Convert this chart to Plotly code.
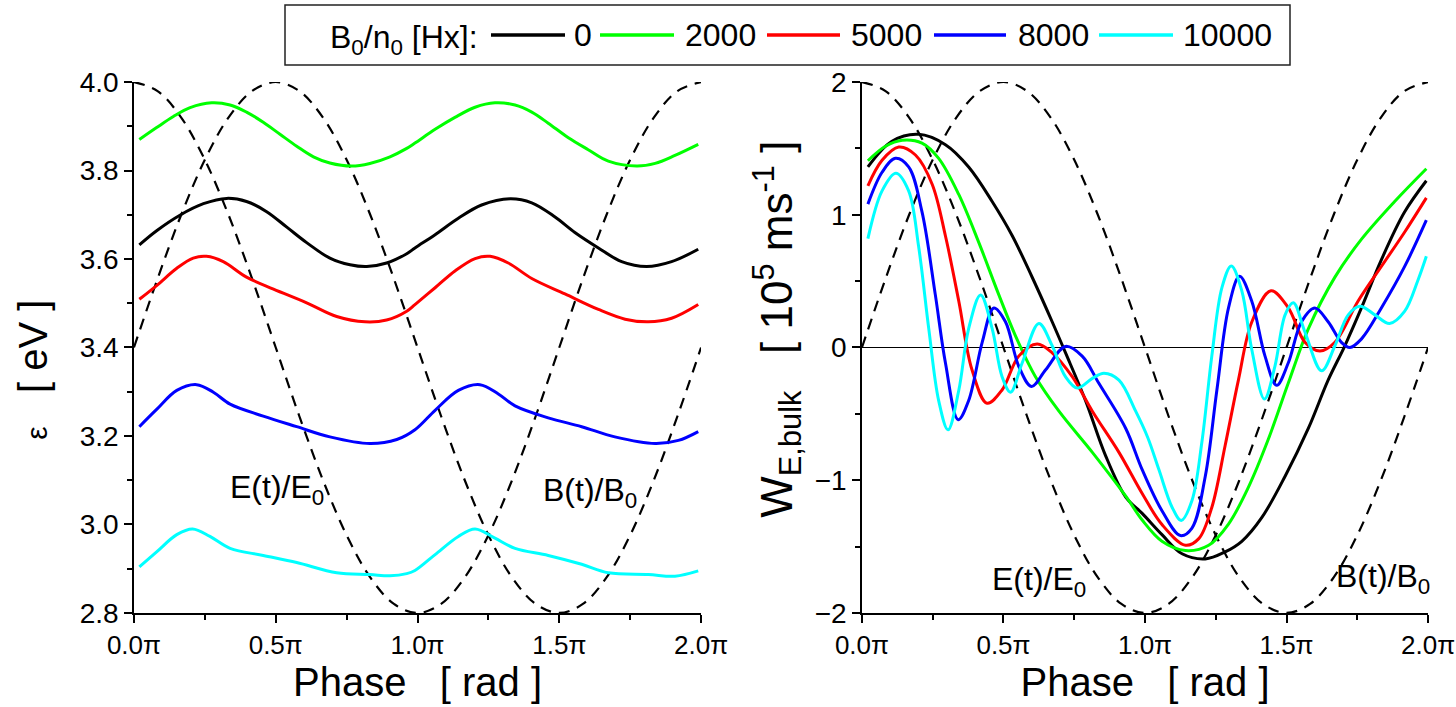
import plotly.graph_objects as go

# ---------------- data (phase in units of pi) ----------------
series_labels = ["0", "2000", "5000", "8000", "10000"]
series_colors = ["#000000", "#00ff00", "#ff0000", "#0000ff", "#00ffff"]

# Left panel: mean energy eps [eV]
eps_0_phase = [0.019, 0.080, 0.162, 0.245, 0.327, 0.397, 0.468, 0.539, 0.609, 0.691, 0.762, 0.821, 0.891, 0.962,
               0.991, 1.062, 1.144, 1.226, 1.326, 1.403, 1.485, 1.555, 1.638, 1.720, 1.808, 1.896, 1.990]
eps_0 = [3.632, 3.664, 3.699, 3.725, 3.737, 3.730, 3.707, 3.672, 3.637, 3.602, 3.587, 3.583, 3.591, 3.612,
         3.625, 3.655, 3.692, 3.722, 3.736, 3.727, 3.695, 3.660, 3.625, 3.594, 3.583, 3.594, 3.622]

eps_2000_phase = [0.019, 0.080, 0.139, 0.198, 0.274, 0.339, 0.397, 0.456, 0.515, 0.574, 0.633, 0.691, 0.768, 0.832,
                  0.903, 0.962, 0.991, 1.062, 1.132, 1.203, 1.273, 1.344, 1.403, 1.461, 1.532, 1.602, 1.673, 1.773,
                  1.838, 1.908, 1.990]
eps_2000 = [3.870, 3.897, 3.922, 3.942, 3.953, 3.948, 3.932, 3.909, 3.882, 3.855, 3.831, 3.817, 3.810, 3.816,
            3.831, 3.850, 3.862, 3.893, 3.920, 3.943, 3.953, 3.948, 3.932, 3.907, 3.874, 3.847, 3.821, 3.810,
            3.816, 3.834, 3.859]

eps_5000_phase = [0.019, 0.080, 0.151, 0.209, 0.256, 0.315, 0.397, 0.492, 0.609, 0.715, 0.815, 0.891, 0.962,
                  0.991, 1.062, 1.132, 1.203, 1.256, 1.320, 1.403, 1.520, 1.638, 1.732, 1.814, 1.896, 1.990]
eps_5000 = [3.509, 3.540, 3.579, 3.602, 3.606, 3.594, 3.559, 3.532, 3.501, 3.470, 3.458, 3.462, 3.482,
            3.497, 3.535, 3.573, 3.601, 3.606, 3.591, 3.556, 3.521, 3.486, 3.464, 3.458, 3.466, 3.497]

eps_8000_phase = [0.019, 0.080, 0.151, 0.221, 0.280, 0.339, 0.456, 0.574, 0.691, 0.832, 0.927,
                  0.991, 1.062, 1.144, 1.220, 1.285, 1.344, 1.461, 1.579, 1.696, 1.838, 1.920, 1.990]
eps_8000 = [3.221, 3.260, 3.303, 3.316, 3.299, 3.272, 3.245, 3.221, 3.198, 3.183, 3.192,
            3.214, 3.258, 3.303, 3.316, 3.295, 3.268, 3.241, 3.221, 3.198, 3.183, 3.190, 3.210]

eps_10000_phase = [0.019, 0.080, 0.151, 0.207, 0.268, 0.339, 0.456, 0.574, 0.715, 0.832, 0.903, 0.962,
                   0.991, 1.062, 1.144, 1.203, 1.273, 1.344, 1.461, 1.579, 1.673, 1.814, 1.908, 1.990]
eps_10000 = [2.904, 2.938, 2.977, 2.990, 2.973, 2.946, 2.930, 2.914, 2.891, 2.887, 2.884, 2.889,
             2.896, 2.932, 2.973, 2.990, 2.969, 2.946, 2.930, 2.910, 2.891, 2.887, 2.883, 2.895]

# Right panel: W_E,bulk [1e5 m/s]
w_0_phase = [0.021, 0.106, 0.200, 0.295, 0.377, 0.460, 0.531, 0.601, 0.672, 0.719, 0.790, 0.861, 0.932,
             0.990, 1.060, 1.131, 1.213, 1.283, 1.342, 1.413, 1.495, 1.577, 1.647, 1.706, 1.765, 1.835, 1.917, 1.994]
w_0 = [1.36, 1.554, 1.606, 1.528, 1.36, 1.10, 0.842, 0.531, 0.194, -0.039, -0.40, -0.816, -1.127,
       -1.25, -1.41, -1.554, -1.593, -1.54, -1.46, -1.28, -0.97, -0.61, -0.246, 0.013, 0.30, 0.66, 1.02, 1.256]

w_2000_phase = [0.021, 0.083, 0.142, 0.212, 0.271, 0.342, 0.413, 0.483, 0.542, 0.613, 0.696, 0.814, 0.932,
                0.990, 1.060, 1.143, 1.225, 1.295, 1.366, 1.436, 1.506, 1.577, 1.671, 1.765, 1.882, 1.994]
w_2000 = [1.407, 1.516, 1.562, 1.54, 1.425, 1.153, 0.79, 0.40, 0.09, -0.22, -0.48, -0.79, -1.12,
          -1.30, -1.46, -1.53, -1.49, -1.33, -1.05, -0.69, -0.27, 0.14, 0.53, 0.816, 1.10, 1.347]

w_5000_phase = [0.021, 0.071, 0.130, 0.189, 0.248, 0.295, 0.342, 0.389, 0.442, 0.495, 0.554, 0.619, 0.672,
                0.743, 0.814, 0.908, 0.990, 1.060, 1.143, 1.190, 1.236, 1.283, 1.330, 1.377, 1.445, 1.506,
                1.565, 1.618, 1.671, 1.753, 1.835, 1.917, 1.994]
w_5000 = [1.218, 1.41, 1.51, 1.45, 1.23, 0.84, 0.35, -0.17, -0.42, -0.32, -0.065, 0.026, -0.04,
          -0.22, -0.48, -0.79, -1.10, -1.334, -1.49, -1.44, -1.205, -0.74, -0.246, 0.19, 0.427, 0.30,
          0.04, -0.026, 0.04, 0.35, 0.61, 0.868, 1.127]

w_8000_phase = [0.021, 0.071, 0.118, 0.165, 0.212, 0.259, 0.295, 0.340, 0.377, 0.425, 0.466, 0.507, 0.554,
                0.599, 0.649, 0.719, 0.778, 0.837, 0.932, 0.990, 1.060, 1.125, 1.166, 1.213, 1.254, 1.295,
                1.334, 1.377, 1.424, 1.465, 1.506, 1.553, 1.600, 1.647, 1.694, 1.724, 1.765, 1.835, 1.917, 1.994]
w_8000 = [1.08, 1.32, 1.425, 1.36, 1.023, 0.40, -0.117, -0.544, -0.40, 0.04, 0.298, 0.194, -0.142,
          -0.293, -0.168, 0.008, -0.065, -0.27, -0.61, -0.92, -1.23, -1.417, -1.36, -0.97, -0.32, 0.298,
          0.536, 0.35, -0.065, -0.285, -0.117, 0.194, 0.298, 0.194, 0.039, 0.0, 0.065, 0.298, 0.609, 0.959]

w_10000_phase = [0.021, 0.071, 0.120, 0.165, 0.200, 0.236, 0.271, 0.304, 0.342, 0.377, 0.419, 0.460, 0.495,
                 0.525, 0.566, 0.625, 0.672, 0.719, 0.761, 0.814, 0.855, 0.908, 0.967, 1.010, 1.049, 1.096,
                 1.128, 1.166, 1.201, 1.236, 1.272, 1.305, 1.342, 1.377, 1.422, 1.459, 1.495, 1.524, 1.565,
                 1.624, 1.671, 1.718, 1.759, 1.812, 1.864, 1.917, 1.964, 1.994]
w_10000 = [0.82, 1.18, 1.313, 1.18, 0.764, 0.142, -0.40, -0.62, -0.324, 0.142, 0.396, 0.142, -0.22,
           -0.337, -0.117, 0.181, 0.013, -0.22, -0.306, -0.233, -0.194, -0.246, -0.48, -0.68, -0.92, -1.205,
           -1.303, -1.153, -0.712, -0.065, 0.453, 0.614, 0.427, -0.013, -0.389, -0.142, 0.246, 0.337, 0.117,
           -0.176, 0.013, 0.246, 0.311, 0.246, 0.181, 0.272, 0.505, 0.687]

# Normalised fields E(t)/E0 and B(t)/B0 (dashed guides)
field_phase = [0.0, 0.0833, 0.1667, 0.25, 0.3333, 0.4167, 0.5, 0.5833, 0.6667, 0.75, 0.8333, 0.9167, 1.0,
               1.0833, 1.1667, 1.25, 1.3333, 1.4167, 1.5, 1.5833, 1.6667, 1.75, 1.8333, 1.9167, 2.0]
E_norm = [1.0, 0.966, 0.866, 0.707, 0.5, 0.259, 0.0, -0.259, -0.5, -0.707, -0.866, -0.966, -1.0,
          -0.966, -0.866, -0.707, -0.5, -0.259, 0.0, 0.259, 0.5, 0.707, 0.866, 0.966, 1.0]
B_norm = [0.0, 0.259, 0.5, 0.707, 0.866, 0.966, 1.0, 0.966, 0.866, 0.707, 0.5, 0.259, 0.0,
          -0.259, -0.5, -0.707, -0.866, -0.966, -1.0, -0.966, -0.866, -0.707, -0.5, -0.259, 0.0]

eps_phases = [eps_0_phase, eps_2000_phase, eps_5000_phase, eps_8000_phase, eps_10000_phase]
eps_values = [eps_0, eps_2000, eps_5000, eps_8000, eps_10000]
w_phases = [w_0_phase, w_2000_phase, w_5000_phase, w_8000_phase, w_10000_phase]
w_values = [w_0, w_2000, w_5000, w_8000, w_10000]

# ---------------- figure ----------------
W, H = 1456, 707
FONT = "Liberation Sans, Arial, sans-serif"
fig = go.Figure()

# dashed field guides (left panel maps [-1,1] onto [2.8,4.0], right onto [-2,2])
dash_style = dict(color="black", width=2.2, dash="11px,8px")
for v in (E_norm, B_norm):
    fig.add_trace(go.Scatter(x=field_phase, y=[3.4 + 0.6 * a for a in v], mode="lines",
                             line=dict(shape="spline", **dash_style), showlegend=False,
                             xaxis="x", yaxis="y", hoverinfo="skip"))
    fig.add_trace(go.Scatter(x=field_phase, y=[2.0 * a for a in v], mode="lines",
                             line=dict(shape="spline", **dash_style), showlegend=False,
                             xaxis="x2", yaxis="y2", hoverinfo="skip"))

for lab, col, xp, yv in zip(series_labels, series_colors, eps_phases, eps_values):
    fig.add_trace(go.Scatter(x=xp, y=yv, mode="lines", name=lab, legendgroup=lab, showlegend=False,
                             line=dict(color=col, width=3, shape="spline", smoothing=1.0),
                             xaxis="x", yaxis="y"))
for lab, col, xp, yv in zip(series_labels, series_colors, w_phases, w_values):
    fig.add_trace(go.Scatter(x=xp, y=yv, mode="lines", name=lab, legendgroup=lab, showlegend=False,
                             line=dict(color=col, width=3, shape="spline", smoothing=1.0),
                             xaxis="x2", yaxis="y2"))

NB = "\u00a0"
ZW = "\u200b"
common_x = dict(range=[0, 2], dtick=0.5, tick0=0, tickformat=".1f", ticksuffix="π",
                showline=True, linecolor="black", linewidth=1.5, mirror=False,
                ticks="outside", ticklen=8, tickwidth=1.5, tickcolor="black",
                minor=dict(dtick=0.25, tick0=0, ticks="outside", ticklen=5, tickwidth=1.5, tickcolor="black"),
                showgrid=False, zeroline=False, automargin=False, ticklabeloverflow="allow",
                tickfont=dict(family=FONT, size=26, color="black"),
                title=dict(text="Phase" + NB * 3 + "[ rad ]", font=dict(family=FONT, size=40, color="black"),
                           standoff=5))
common_y = dict(showline=True, linecolor="black", linewidth=1.5, mirror=False,
                ticks="outside", ticklen=8, tickwidth=1.5, tickcolor="black",
                showgrid=False, automargin=False,
                tickfont=dict(family=FONT, size=28, color="black"))

# ---- legend drawn as a framed key (px positions on the page) ----
def px(x):
    return x / W

def py(y):
    return 1 - y / H

legend_line_x = [(491, 565), (600, 674), (767, 840), (934, 1006), (1099, 1173)]
legend_text_x = [572, 683, 849, 1016, 1181]
legend_y = 35
shapes = [dict(type="rect", xref="paper", yref="paper", x0=px(285), x1=px(1290), y0=py(65), y1=py(5),
               line=dict(color="#222222", width=1.5), fillcolor="white", layer="above")]
annotations = [dict(x=px(328), y=py(legend_y), xref="paper", yref="paper", xanchor="left", yanchor="middle",
                    text="B<sub>0</sub>/n<sub>0</sub> [Hx]:", showarrow=False, yshift=-4,
                    font=dict(family=FONT, size=32, color="black"))]
for lab, col, (x0, x1), tx in zip(series_labels, series_colors, legend_line_x, legend_text_x):
    shapes.append(dict(type="line", xref="paper", yref="paper", x0=px(x0), x1=px(x1),
                       y0=py(legend_y), y1=py(legend_y), line=dict(color=col, width=3.5), layer="above"))
    annotations.append(dict(x=px(tx), y=py(legend_y), xref="paper", yref="paper", xanchor="left",
                            yanchor="middle", text=lab, showarrow=False,
                            font=dict(family=FONT, size=32, color="black")))

annotations += [
    dict(x=0.504, y=3.078, xref="x", yref="y", text="E(t)/E<sub>0</sub>", showarrow=False,
         font=dict(family=FONT, size=32, color="black")),
    dict(x=1.608, y=3.073, xref="x", yref="y", text="B(t)/B<sub>0</sub>", showarrow=False,
         font=dict(family=FONT, size=32, color="black")),
    dict(x=0.627, y=-1.76, xref="x2", yref="y2", text="E(t)/E<sub>0</sub>", showarrow=False,
         font=dict(family=FONT, size=32, color="black")),
    dict(x=1.842, y=-1.74, xref="x2", yref="y2", text="B(t)/B<sub>0</sub>", showarrow=False,
         font=dict(family=FONT, size=32, color="black")),
]

fig.update_layout(
    width=W, height=H,
    margin=dict(l=0, r=0, t=0, b=0),
    paper_bgcolor="white", plot_bgcolor="white",
    font=dict(family=FONT, color="black"),
    showlegend=False,
    xaxis=dict(domain=[0.0920, 0.4815], anchor="y", **common_x),
    yaxis=dict(domain=[0.133, 0.884], anchor="x", range=[2.8, 4.0], dtick=0.2, tick0=2.8, tickformat=".1f",
               zeroline=False,
               minor=dict(dtick=0.1, tick0=2.8, ticks="outside", ticklen=5, tickwidth=1.5, tickcolor="black"),
               title=dict(text="<span style='font-size:30px'>ε</span>" + NB * 3 + "[ eV ]" + NB * 4 + ZW,
                          font=dict(family=FONT, size=40, color="black"), standoff=20),
               **common_y),
    xaxis2=dict(domain=[0.5920, 0.9808], anchor="y2", **common_x),
    yaxis2=dict(domain=[0.133, 0.884], anchor="x2", range=[-2, 2], dtick=1, tick0=-2,
                zeroline=True, zerolinecolor="black", zerolinewidth=1,
                minor=dict(dtick=0.5, tick0=-2, ticks="outside", ticklen=5, tickwidth=1.5, tickcolor="black"),
                title=dict(text=ZW + NB * 3 + "W<sub>E,bulk</sub>" + NB * 3 +
                           "[ 10<sup>5</sup> ms<sup>-1</sup> ]",
                           font=dict(family=FONT, size=44, color="black"), standoff=8),
                **common_y),
    shapes=shapes,
    annotations=annotations,
)

fig.write_html("out.html")
